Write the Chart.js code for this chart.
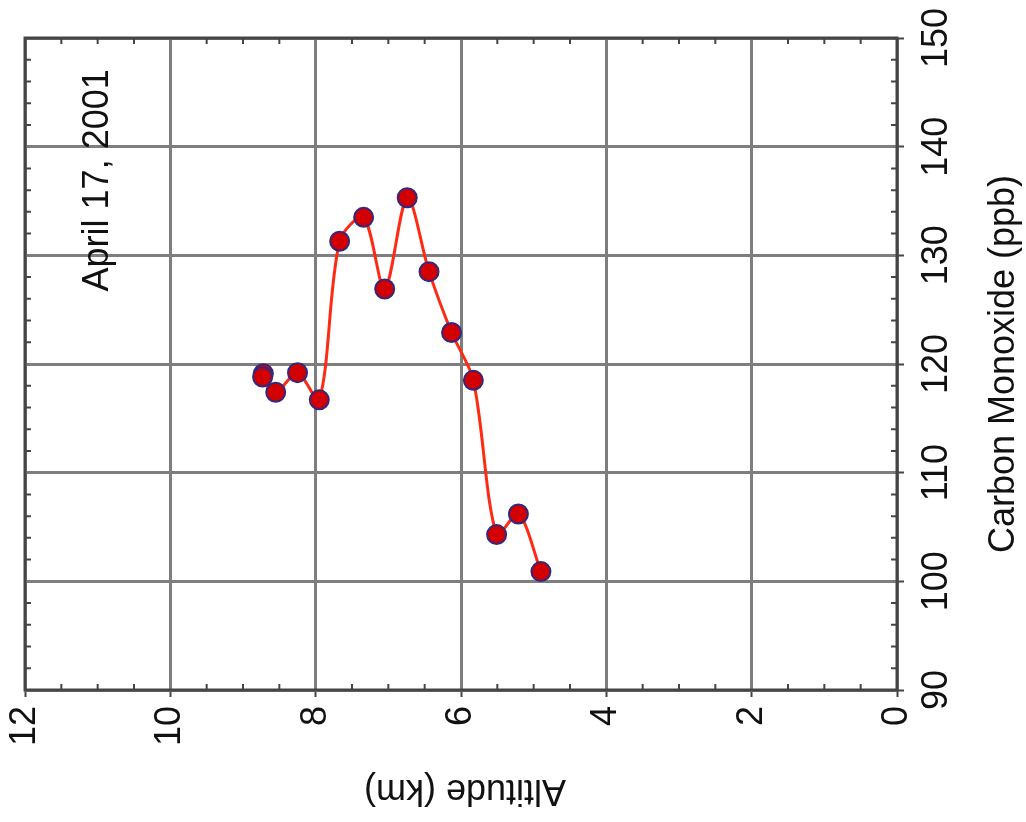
<html>
<head>
<meta charset="UTF-8">
<title>Carbon Monoxide Profile</title>
<style>
body {
    margin: 0;
    padding: 0;
    background: white;
}

canvas {
    display: block;
}
</style>
<script src="https://cdn.jsdelivr.net/npm/chart.js@4.4.0/dist/chart.umd.min.js"></script>
</head>
<body>
<canvas id="canvas" width="1026" height="822"></canvas>
</body>
<script>
// profile points in flight order: altitude (km) and CO (ppb)
const altitude = [8.72, 8.73, 8.55, 8.25, 7.95, 7.67, 7.34, 7.05, 6.74, 6.44, 6.13, 5.83, 5.51, 5.21, 4.90]
const carbonMonoxide = [119.1, 118.8, 117.4, 119.2, 116.7, 131.3, 133.5, 126.9, 135.3, 128.5, 122.9, 118.5, 104.3, 106.2, 100.9]

const altitudeTicks = [0, 2, 4, 6, 8, 10, 12]
const coTicks = [90, 100, 110, 120, 130, 140, 150]
const altitudeMinor = 0.5
const coMinor = 2

const xTitle = "Altitude (km)"
const yTitle = "Carbon Monoxide (ppb)"
const dateLabel = "April 17, 2001"
const dateAt = [11.0, 136.9]

const FONT = '36px "Liberation Sans", Arial, sans-serif'
const INK = "#111111"
const FRAME = "#454545"

function rotText(ctx, str, x, y, angle, align) {
    ctx.save()
    ctx.translate(x, y)
    ctx.rotate(angle)
    ctx.textAlign = align
    ctx.textBaseline = "middle"
    ctx.fillText(str, 0, 0)
    ctx.restore()
}

const frame = {
    id: "frame",
    beforeDatasetsDraw(chart) {
        const {ctx, chartArea: a, scales: {x, y}} = chart
        ctx.save()
        ctx.strokeStyle = FRAME
        ctx.lineWidth = 2
        ctx.beginPath()
        for (let i = 0; i * altitudeMinor <= 12; ++i) {
            const v = i * altitudeMinor
            if (altitudeTicks.includes(v)) continue
            const px = x.getPixelForValue(v)
            ctx.moveTo(px, a.bottom); ctx.lineTo(px, a.bottom - 6)
            ctx.moveTo(px, a.top); ctx.lineTo(px, a.top + 6)
        }
        for (let v = 90; v <= 150; v += coMinor) {
            if (coTicks.includes(v)) continue
            const py = y.getPixelForValue(v)
            ctx.moveTo(a.right, py); ctx.lineTo(a.right - 6, py)
            ctx.moveTo(a.left, py); ctx.lineTo(a.left + 6, py)
        }
        ctx.stroke()
        ctx.lineWidth = 3
        ctx.strokeRect(a.left, a.top, a.right - a.left, a.bottom - a.top)
        ctx.restore()
    },
    afterDraw(chart) {
        const {ctx, chartArea: a, scales: {x, y}} = chart
        ctx.save()
        ctx.font = FONT
        ctx.fillStyle = INK
        x.ticks.forEach(t => rotText(ctx, String(t.value), x.getPixelForValue(t.value), a.bottom + 16, -Math.PI / 2, "right"))
        y.ticks.forEach(t => rotText(ctx, String(t.value), 937, y.getPixelForValue(t.value), -Math.PI / 2, "center"))
        rotText(ctx, yTitle, 1004, (a.top + a.bottom) / 2, -Math.PI / 2, "center")
        rotText(ctx, xTitle, (a.left + a.right) / 2 + 4, 790, Math.PI, "center")
        rotText(ctx, dateLabel, x.getPixelForValue(dateAt[0]), y.getPixelForValue(dateAt[1]), -Math.PI / 2, "center")
        ctx.restore()
    },
}

const ctx = document.getElementById("canvas").getContext("2d")
const chart = new Chart(ctx, {
    type: "scatter",
    data: {
        datasets: [{
            data: altitude.map((v, i) => ({x: v, y: carbonMonoxide[i]})),
            showLine: true,
            tension: 0.3,
            borderColor: "#ff2a14",
            borderWidth: 3,
            pointRadius: 9.5,
            pointBackgroundColor: "#d20000",
            pointBorderColor: "#33287e",
            pointBorderWidth: 2,
        }],
    },
    options: {
        responsive: false,
        animation: false,
        devicePixelRatio: 1,
        layout: {padding: {left: 25, top: 38, right: 0, bottom: 0}},
        plugins: {legend: {display: false}, tooltip: {enabled: false}},
        scales: {
            x: {
                type: "linear",
                min: 0,
                max: 12,
                reverse: true,
                afterBuildTicks: (scale) => { scale.ticks = altitudeTicks.map(v => ({value: v})) },
                afterFit: (scale) => { scale.height = 132 },
                ticks: {display: false},
                border: {display: false},
                grid: {color: "#7e7e7e", lineWidth: 3, drawTicks: true, tickLength: 7, tickColor: FRAME, tickWidth: 2},
            },
            y: {
                type: "linear",
                position: "right",
                min: 90,
                max: 150,
                afterBuildTicks: (scale) => { scale.ticks = coTicks.map(v => ({value: v})) },
                afterFit: (scale) => { scale.width = 129 },
                ticks: {display: false},
                border: {display: false},
                grid: {color: "#7e7e7e", lineWidth: 3, drawTicks: true, tickLength: 7, tickColor: FRAME, tickWidth: 2},
            },
        },
    },
    plugins: [frame],
})
</script>
</html>
